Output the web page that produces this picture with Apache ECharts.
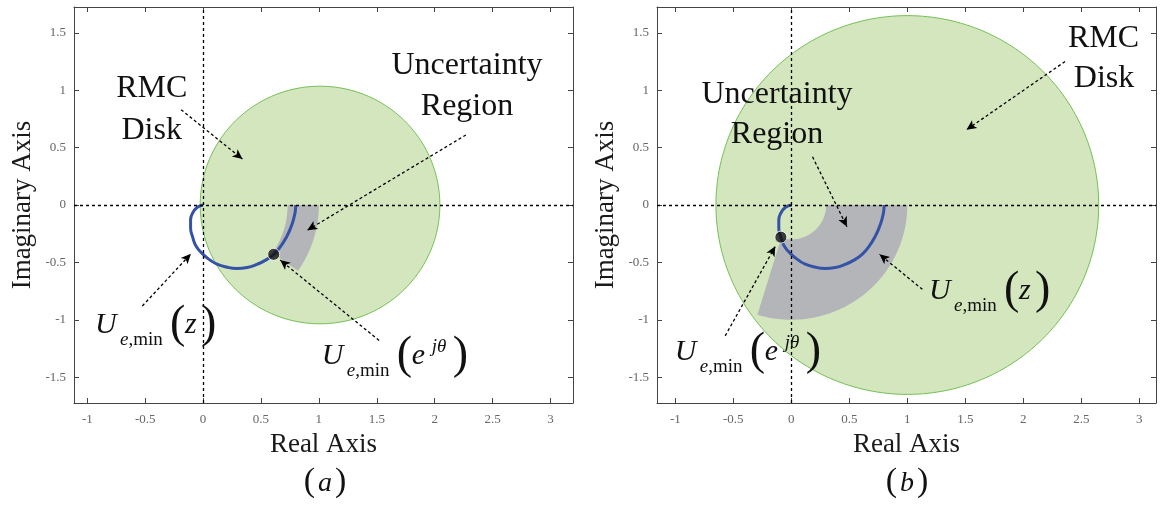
<!DOCTYPE html>
<html>
<head>
<meta charset="utf-8">
<script src="https://cdn.jsdelivr.net/npm/echarts@6/dist/echarts.min.js"></script>
<style>
  html, body { margin: 0; padding: 0; background: #fff; }
  #main { width: 1162px; height: 510px; }
</style>
</head>
<body>
<div id="main"></div>
<script>
// tick values
const xTicks = [-1, -0.5, 0, 0.5, 1, 1.5, 2, 2.5, 3];
const yTicks = [-1.5, -1, -0.5, 0, 0.5, 1, 1.5];

// U_e,min(z) curve (same in both panels)
const uzX = [0, -0.05, -0.09, -0.108, -0.108, -0.09, -0.06, 0.0, 0.06, 0.12, 0.2, 0.29, 0.38, 0.47, 0.54, 0.61, 0.67, 0.72, 0.76, 0.785, 0.797, 0.8];
const uzY = [0, -0.02, -0.07, -0.13, -0.2, -0.28, -0.36, -0.43, -0.48, -0.515, -0.54, -0.553, -0.545, -0.515, -0.48, -0.43, -0.36, -0.28, -0.19, -0.11, -0.05, 0];

// RMC disks: center x, center y, radius
const diskA = [1.01, 0, 1.035];
const diskB = [1.0, 0, 1.65];
// uncertainty sectors: inner r, outer r, start angle, end angle (deg)
const sectorA = [0.73, 1.0, 0, -35];
const sectorB = [0.3, 1.0, 0, -107];
// U_e,min(e^jθ) points
const pointA = [0.61, -0.43];
const pointB = [-0.09, -0.28];
// arrows: x1, y1, x2, y2 (tail -> head)
const arrowsA = [[-0.19, 0.83, 0.34, 0.40], [2.27, 0.61, 0.90, -0.22], [-0.525, -0.88, -0.105, -0.425], [1.52, -1.18, 0.666, -0.48]];
const arrowsB = [[2.36, 1.25, 1.51, 0.655], [0.183, 0.42, 0.48, -0.19], [1.13, -0.735, 0.76, -0.43], [-0.57, -1.14, -0.138, -0.36]];

const serif = 'Liberation Serif';
const curve = uzX.map((x, i) => [x, uzY[i]]);

function renderDisk(params, api) {
  const cx = api.value(0), cy = api.value(1), r = api.value(2);
  const pts = [];
  for (let i = 0; i <= 240; i++) {
    const t = i / 240 * 2 * Math.PI;
    pts.push(api.coord([cx + r * Math.cos(t), cy + r * Math.sin(t)]));
  }
  return { type: 'polygon', shape: { points: pts }, style: { fill: '#d3e6bd', stroke: '#74c056', lineWidth: 1 } };
}

function renderSector(params, api) {
  const r0 = api.value(0), r1 = api.value(1);
  const a0 = api.value(2) * Math.PI / 180, a1 = api.value(3) * Math.PI / 180;
  const pts = [];
  const n = 80;
  for (let i = 0; i <= n; i++) {
    const a = a0 + (a1 - a0) * i / n;
    pts.push(api.coord([r1 * Math.cos(a), r1 * Math.sin(a)]));
  }
  for (let i = n; i >= 0; i--) {
    const a = a0 + (a1 - a0) * i / n;
    pts.push(api.coord([r0 * Math.cos(a), r0 * Math.sin(a)]));
  }
  return { type: 'polygon', shape: { points: pts }, style: { fill: '#b4b5b9' } };
}

function axisPair(min, max, ticks, isX, gridIndex) {
  const base = {
    type: 'value', gridIndex: gridIndex, min: min, max: max,
    splitLine: { show: false },
    axisLine: { show: true, onZero: false, lineStyle: { color: '#444', width: 1 } },
    axisTick: { show: true, inside: true, length: 5, customValues: ticks, lineStyle: { color: '#444' } }
  };
  const main = Object.assign({}, base, {
    position: isX ? 'bottom' : 'left',
    axisLabel: { customValues: ticks, color: '#666', fontFamily: serif, fontSize: 13, margin: isX ? 10 : 8 },
    name: isX ? 'Real Axis' : 'Imaginary Axis',
    nameLocation: 'middle',
    nameGap: isX ? 28 : 38,
    nameTextStyle: { fontFamily: serif, fontSize: 27, color: '#1a1a1a' }
  });
  const other = Object.assign({}, base, {
    position: isX ? 'top' : 'right',
    axisLabel: { show: false }
  });
  return [main, other];
}

function panelSeries(xi, yi, disk, sector, point, arrows) {
  return [
    { type: 'custom', xAxisIndex: xi, yAxisIndex: yi, renderItem: renderDisk, data: [disk], z: 1, silent: true },
    { type: 'custom', xAxisIndex: xi, yAxisIndex: yi, renderItem: renderSector, data: [sector], z: 2, silent: true },
    {
      type: 'line', xAxisIndex: xi, yAxisIndex: yi, data: [], z: 3, silent: true,
      markLine: {
        silent: true, symbol: ['none', 'none'], label: { show: false },
        lineStyle: { color: '#000', type: [3, 3], width: 1.3 },
        data: [{ xAxis: 0 }, { yAxis: 0 }]
      }
    },
    {
      type: 'line', xAxisIndex: xi, yAxisIndex: yi, data: curve, smooth: true, showSymbol: false, z: 4, silent: true,
      lineStyle: { color: '#3452a6', width: 3 }
    },
    {
      type: 'line', xAxisIndex: xi, yAxisIndex: yi, data: [], z: 5, silent: true,
      markLine: {
        silent: true, symbol: ['none', 'arrow'], symbolSize: [7, 10], label: { show: false },
        lineStyle: { color: '#000', type: [3, 2.5], width: 1.3 },
        data: arrows.map(a => [{ coord: [a[0], a[1]] }, { coord: [a[2], a[3]] }])
      }
    },
    {
      type: 'scatter', xAxisIndex: xi, yAxisIndex: yi, data: [point], z: 6, silent: true,
      symbolSize: 12, itemStyle: { color: '#111', borderColor: '#fff', borderWidth: 1 }
    }
  ];
}

function txt(x, y, text, size, italic, align) {
  return {
    type: 'text', x: x, y: y, silent: true, z: 100,
    style: {
      text: text, fill: '#111',
      font: (italic ? 'italic ' : '') + size + 'px "' + serif + '"',
      textAlign: align || 'left', align: align || 'left',
      textVerticalAlign: 'middle', verticalAlign: 'middle'
    }
  };
}

// U_{e,min}( arg ) label, x0/y0 = left and baseline of the U
function mathLabel(x0, y0, isExp) {
  const els = [
    txt(x0, y0 - 10.1, 'U', 30, true),
    txt(x0 + 25, y0 + 11 - 6.4, 'e', 19, true),
    txt(x0 + 33.5, y0 + 11 - 6.4, ',min', 19, false),
    txt(x0 + 75, y0 - 10.3, '(', 46, false)
  ];
  if (isExp) {
    els.push(txt(x0 + 90, y0 - 10.1, 'e', 30, true));
    els.push(txt(x0 + 110, y0 - 13 - 6.4, 'jθ', 19, true));
    els.push(txt(x0 + 131, y0 - 10.3, ')', 46, false));
  } else {
    els.push(txt(x0 + 90, y0 - 10.1, 'z', 30, true));
    els.push(txt(x0 + 106, y0 - 10.3, ')', 46, false));
  }
  return els;
}

function caption(cx, cy, letter) {
  return [
    txt(cx - 10, cy - 2, '(', 34, false, 'right'),
    txt(cx, cy, letter, 28, true, 'center'),
    txt(cx + 10, cy - 2, ')', 34, false, 'left')
  ];
}

const graphics = [].concat(
  txt(151.7, 89, 'RMC', 32, false, 'center'),
  txt(151.7, 131, 'Disk', 32, false, 'center'),
  txt(467, 66, 'Uncertainty', 32, false, 'center'),
  txt(467, 107, 'Region', 32, false, 'center'),
  mathLabel(95, 335, false),
  mathLabel(321.7, 366.7, true),
  caption(325, 484, 'a'),
  txt(1103.5, 39, 'RMC', 32, false, 'center'),
  txt(1104, 79, 'Disk', 32, false, 'center'),
  txt(777, 95, 'Uncertainty', 32, false, 'center'),
  txt(777, 135, 'Region', 32, false, 'center'),
  mathLabel(929, 301, false),
  mathLabel(674.8, 362.6, true),
  caption(907, 484, 'b')
);

const xa = axisPair(-1.115, 3.195, xTicks, true, 0);
const xb = axisPair(-1.158, 3.144, xTicks, true, 1);
const ya = axisPair(-1.725, 1.725, yTicks, false, 0);
const yb = axisPair(-1.725, 1.725, yTicks, false, 1);

const option = {
  animation: false,
  backgroundColor: '#fff',
  grid: [
    { left: 74, top: 7, width: 499, height: 396 },
    { left: 657, top: 7, width: 499, height: 396 }
  ],
  xAxis: [xa[0], xa[1], xb[0], xb[1]],
  yAxis: [ya[0], ya[1], yb[0], yb[1]],
  series: [].concat(
    panelSeries(0, 0, diskA, sectorA, pointA, arrowsA),
    panelSeries(2, 2, diskB, sectorB, pointB, arrowsB)
  ),
  graphic: graphics
};

const myChart = echarts.init(document.getElementById('main'));
myChart.setOption(option);
</script>
</body>
</html>
